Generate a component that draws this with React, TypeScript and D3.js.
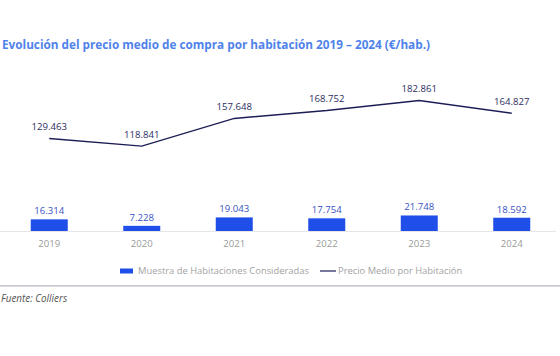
import React from "react";
import * as d3 from "d3";

const years = ["2019", "2020", "2021", "2022", "2023", "2024"];
const sampleRooms = [16.314, 7.228, 19.043, 17.754, 21.748, 18.592];
const avgPrice = [129.463, 118.841, 157.648, 168.752, 182.861, 164.827];
const title = "Evolución del precio medio de compra por habitación 2019 – 2024 (€/hab.)";
const barLegend = "Muestra de Habitaciones Consideradas";
const lineLegend = "Precio Medio por Habitación";
const source = "Fuente: Colliers";

const W = 560;
const H = 356;
const FONT = "'Open Sans', 'Noto Sans', sans-serif";

export default function App() {
  const x = d3.scaleBand<string>().domain(years).range([3, 558]).paddingInner(0.6).paddingOuter(0.3);
  const baseY = 231;
  const y = d3.scaleLinear().domain([0, 200]).range([baseY, baseY - 142.8]);
  const cx = (d: string) => (x(d) as number) + x.bandwidth() / 2;
  const line = d3
    .line<number>()
    .x((_, i) => cx(years[i]))
    .y((d) => y(d));
  const fmt = (v: number) => v.toFixed(3);
  const bw = 37;

  return (
    <svg width={W} height={H} style={{ position: "absolute", left: 0, top: 0, background: "#fff" }} fontFamily={FONT}>
      <text x={2} y={49.3} fontSize={11.75} fontWeight={700} fill="#4f82ea">
        {title}
      </text>
      <line x1={0} x2={556} y1={baseY + 0.5} y2={baseY + 0.5} stroke="#e6e6e6" strokeWidth={1} />
      {years.map((yr, i) => (
        <g key={yr}>
          <rect x={cx(yr) - bw / 2} y={y(sampleRooms[i])} width={bw} height={baseY - y(sampleRooms[i])} fill="#1f4ee8" />
          <text x={cx(yr)} y={y(sampleRooms[i]) - 5} textAnchor="middle" fontSize={9.6} fill="#3752c4">
            {fmt(sampleRooms[i])}
          </text>
          <text x={cx(yr)} y={246.5} textAnchor="middle" fontSize={9.6} fill="#9a9a9a">
            {yr}
          </text>
          <text x={cx(yr)} y={y(avgPrice[i]) - 8.5} textAnchor="middle" fontSize={9.6} fill="#2c2c5e">
            {fmt(avgPrice[i])}
          </text>
        </g>
      ))}
      <path d={line(avgPrice) || ""} fill="none" stroke="#1d1d55" strokeWidth={1.4} />
      <rect x={120} y={268.5} width={13} height={5} fill="#1f4ee8" />
      <text x={138} y={274.3} fontSize={9.4} fill="#a3a3a3">
        {barLegend}
      </text>
      <line x1={320} x2={336} y1={271} y2={271} stroke="#1d1d55" strokeWidth={1.2} />
      <text x={338} y={274.3} fontSize={9.4} fill="#a3a3a3">
        {lineLegend}
      </text>
      <line x1={0} x2={560} y1={285.8} y2={285.8} stroke="#b5b8c6" strokeWidth={1.3} />
      <text x={1} y={301.5} fontSize={9.9} fontStyle="italic" fill="#555">
        {source}
      </text>
    </svg>
  );
}
